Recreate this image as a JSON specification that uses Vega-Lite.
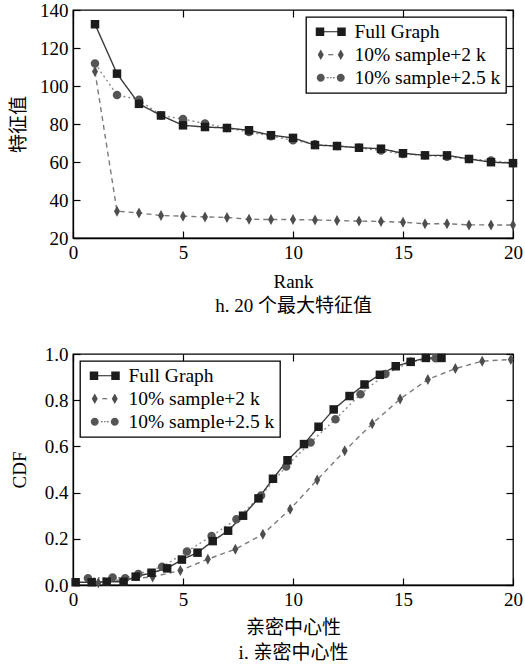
{
  "$schema": "https://vega.github.io/schema/vega-lite/v6.json",
  "padding": {"left": 8, "top": 0, "right": 0, "bottom": 2},
  "spacing": 28,
  "datasets": {
    "top": [
      {"series": "10% sample+2 k", "x": 1, "y": 107.6},
      {"series": "10% sample+2 k", "x": 2, "y": 34.1},
      {"series": "10% sample+2 k", "x": 3, "y": 33.2},
      {"series": "10% sample+2 k", "x": 4, "y": 31.8},
      {"series": "10% sample+2 k", "x": 5, "y": 31.5},
      {"series": "10% sample+2 k", "x": 6, "y": 31.1},
      {"series": "10% sample+2 k", "x": 7, "y": 30.8},
      {"series": "10% sample+2 k", "x": 8, "y": 29.9},
      {"series": "10% sample+2 k", "x": 9, "y": 29.7},
      {"series": "10% sample+2 k", "x": 10, "y": 29.7},
      {"series": "10% sample+2 k", "x": 11, "y": 29.5},
      {"series": "10% sample+2 k", "x": 12, "y": 29.2},
      {"series": "10% sample+2 k", "x": 13, "y": 28.9},
      {"series": "10% sample+2 k", "x": 14, "y": 28.7},
      {"series": "10% sample+2 k", "x": 15, "y": 28.3},
      {"series": "10% sample+2 k", "x": 16, "y": 27.5},
      {"series": "10% sample+2 k", "x": 17, "y": 27.5},
      {"series": "10% sample+2 k", "x": 18, "y": 26.9},
      {"series": "10% sample+2 k", "x": 19, "y": 26.9},
      {"series": "10% sample+2 k", "x": 20, "y": 26.8},
      {"series": "10% sample+2.5 k", "x": 1, "y": 111.9},
      {"series": "10% sample+2.5 k", "x": 2, "y": 95.3},
      {"series": "10% sample+2.5 k", "x": 3, "y": 92.8},
      {"series": "10% sample+2.5 k", "x": 4, "y": 84.5},
      {"series": "10% sample+2.5 k", "x": 5, "y": 82.6},
      {"series": "10% sample+2.5 k", "x": 6, "y": 80.2},
      {"series": "10% sample+2.5 k", "x": 7, "y": 77.9},
      {"series": "10% sample+2.5 k", "x": 8, "y": 75.8},
      {"series": "10% sample+2.5 k", "x": 9, "y": 73.6},
      {"series": "10% sample+2.5 k", "x": 10, "y": 71.5},
      {"series": "10% sample+2.5 k", "x": 11, "y": 69.3},
      {"series": "10% sample+2.5 k", "x": 12, "y": 68.4},
      {"series": "10% sample+2.5 k", "x": 13, "y": 67.5},
      {"series": "10% sample+2.5 k", "x": 14, "y": 66.0},
      {"series": "10% sample+2.5 k", "x": 15, "y": 64.2},
      {"series": "10% sample+2.5 k", "x": 16, "y": 63.5},
      {"series": "10% sample+2.5 k", "x": 17, "y": 62.8},
      {"series": "10% sample+2.5 k", "x": 18, "y": 61.6},
      {"series": "10% sample+2.5 k", "x": 19, "y": 60.8},
      {"series": "10% sample+2.5 k", "x": 20, "y": 59.4},
      {"series": "Full Graph", "x": 1, "y": 132.5},
      {"series": "Full Graph", "x": 2, "y": 106.5},
      {"series": "Full Graph", "x": 3, "y": 90.6},
      {"series": "Full Graph", "x": 4, "y": 84.5},
      {"series": "Full Graph", "x": 5, "y": 79.3},
      {"series": "Full Graph", "x": 6, "y": 78.4},
      {"series": "Full Graph", "x": 7, "y": 77.9},
      {"series": "Full Graph", "x": 8, "y": 76.7},
      {"series": "Full Graph", "x": 9, "y": 74.1},
      {"series": "Full Graph", "x": 10, "y": 72.7},
      {"series": "Full Graph", "x": 11, "y": 68.9},
      {"series": "Full Graph", "x": 12, "y": 68.4},
      {"series": "Full Graph", "x": 13, "y": 67.5},
      {"series": "Full Graph", "x": 14, "y": 67.0},
      {"series": "Full Graph", "x": 15, "y": 64.6},
      {"series": "Full Graph", "x": 16, "y": 63.5},
      {"series": "Full Graph", "x": 17, "y": 63.5},
      {"series": "Full Graph", "x": 18, "y": 61.6},
      {"series": "Full Graph", "x": 19, "y": 59.9},
      {"series": "Full Graph", "x": 20, "y": 59.4}
    ],
    "bottom": [
      {"series": "10% sample+2 k", "x": 1.15, "y": 0.01},
      {"series": "10% sample+2 k", "x": 2.4, "y": 0.025},
      {"series": "10% sample+2 k", "x": 3.62, "y": 0.035},
      {"series": "10% sample+2 k", "x": 4.88, "y": 0.063},
      {"series": "10% sample+2 k", "x": 6.13, "y": 0.112},
      {"series": "10% sample+2 k", "x": 7.38, "y": 0.155},
      {"series": "10% sample+2 k", "x": 8.63, "y": 0.22},
      {"series": "10% sample+2 k", "x": 9.87, "y": 0.328},
      {"series": "10% sample+2 k", "x": 11.1, "y": 0.455},
      {"series": "10% sample+2 k", "x": 12.35, "y": 0.581},
      {"series": "10% sample+2 k", "x": 13.6, "y": 0.698},
      {"series": "10% sample+2 k", "x": 14.87, "y": 0.805},
      {"series": "10% sample+2 k", "x": 16.13, "y": 0.89},
      {"series": "10% sample+2 k", "x": 17.38, "y": 0.937},
      {"series": "10% sample+2 k", "x": 18.6, "y": 0.969},
      {"series": "10% sample+2 k", "x": 19.9, "y": 0.976},
      {"series": "10% sample+2.5 k", "x": 0.68, "y": 0.029},
      {"series": "10% sample+2.5 k", "x": 1.8, "y": 0.033},
      {"series": "10% sample+2.5 k", "x": 2.37, "y": 0.029},
      {"series": "10% sample+2.5 k", "x": 2.97, "y": 0.048},
      {"series": "10% sample+2.5 k", "x": 4.05, "y": 0.079},
      {"series": "10% sample+2.5 k", "x": 5.18, "y": 0.145},
      {"series": "10% sample+2.5 k", "x": 6.3, "y": 0.212},
      {"series": "10% sample+2.5 k", "x": 7.43, "y": 0.285},
      {"series": "10% sample+2.5 k", "x": 8.55, "y": 0.387},
      {"series": "10% sample+2.5 k", "x": 9.69, "y": 0.513},
      {"series": "10% sample+2.5 k", "x": 10.8, "y": 0.617},
      {"series": "10% sample+2.5 k", "x": 11.93, "y": 0.718},
      {"series": "10% sample+2.5 k", "x": 13.07, "y": 0.826},
      {"series": "10% sample+2.5 k", "x": 14.2, "y": 0.913},
      {"series": "10% sample+2.5 k", "x": 15.35, "y": 0.966},
      {"series": "10% sample+2.5 k", "x": 16.48, "y": 0.982},
      {"series": "Full Graph", "x": 0.12, "y": 0.012},
      {"series": "Full Graph", "x": 0.85, "y": 0.012},
      {"series": "Full Graph", "x": 1.53, "y": 0.014},
      {"series": "Full Graph", "x": 2.3, "y": 0.014},
      {"series": "Full Graph", "x": 2.85, "y": 0.036},
      {"series": "Full Graph", "x": 3.57, "y": 0.053},
      {"series": "Full Graph", "x": 4.28, "y": 0.072},
      {"series": "Full Graph", "x": 4.95, "y": 0.11},
      {"series": "Full Graph", "x": 5.66, "y": 0.14},
      {"series": "Full Graph", "x": 6.35, "y": 0.19},
      {"series": "Full Graph", "x": 7.05, "y": 0.235},
      {"series": "Full Graph", "x": 7.73, "y": 0.3},
      {"series": "Full Graph", "x": 8.43, "y": 0.375},
      {"series": "Full Graph", "x": 9.09, "y": 0.46},
      {"series": "Full Graph", "x": 9.75, "y": 0.54},
      {"series": "Full Graph", "x": 10.5, "y": 0.61},
      {"series": "Full Graph", "x": 11.16, "y": 0.685},
      {"series": "Full Graph", "x": 11.85, "y": 0.76},
      {"series": "Full Graph", "x": 12.57, "y": 0.818},
      {"series": "Full Graph", "x": 13.25, "y": 0.868},
      {"series": "Full Graph", "x": 13.95, "y": 0.91},
      {"series": "Full Graph", "x": 14.67, "y": 0.947},
      {"series": "Full Graph", "x": 15.35, "y": 0.966},
      {"series": "Full Graph", "x": 16.04, "y": 0.983},
      {"series": "Full Graph", "x": 16.75, "y": 0.983}
    ]
  },
  "vconcat": [
    {
      "width": 440,
      "height": 228,
      "data": {"name": "top"},
      "layer": [
        {
          "mark": {"type": "line", "strokeWidth": 1.4},
          "encoding": {
            "x": {"field": "x", "type": "quantitative", "scale": {"domain": [0, 20], "nice": false},
              "axis": {"values": [0, 5, 10, 15, 20], "title": ["Rank", "h. 20 个最大特征值"], "titleLineHeight": 24, "titlePadding": 10}},
            "y": {"field": "y", "type": "quantitative", "scale": {"domain": [20, 140], "nice": false, "zero": false},
              "axis": {"values": [20, 40, 60, 80, 100, 120, 140], "title": "特征值", "titlePadding": 11}},
            "stroke": {"field": "series", "type": "nominal", "legend": null,
              "scale": {"range": ["#7a7a7a", "#8c8c8c", "#3a3a3a"]}},
            "strokeDash": {"field": "series", "type": "nominal", "legend": null,
              "scale": {"range": [[5, 4], [2, 3], [1, 0]]}}
          }
        },
        {
          "mark": {"type": "point", "filled": true, "opacity": 1, "size": 100, "strokeWidth": 0},
          "encoding": {
            "x": {"field": "x", "type": "quantitative", "axis": null},
            "y": {"field": "y", "type": "quantitative", "axis": null},
            "shape": {"field": "series", "type": "nominal", "legend": null,
              "scale": {"range": ["M0,-1.1L0.6,0L0,1.1L-0.6,0Z", "M-0.85,0A0.85,0.85 0 1,0 0.85,0A0.85,0.85 0 1,0 -0.85,0Z", "M-0.85,-0.85H0.85V0.85H-0.85Z"]}},
            "color": {"field": "series", "type": "nominal",
              "scale": {"domain": ["Full Graph", "10% sample+2 k", "10% sample+2.5 k"], "range": ["#1c1c1c", "#4e4e4e", "#555555"]},
              "legend": {"orient": "top-right", "offset": 7,
                "encode": {"symbols": {"update": {"shape": {"signal": "datum.value === 'Full Graph' ? 'M-1,-0.85H0.7V-0.12H3.3V-0.85H5V0.85H3.3V0.12H0.7V0.85H-1Z' : datum.value === '10% sample+2 k' ? 'M0,-1.05L0.6,0L0,1.05L-0.6,0Z M4,-1.05L4.6,0L4,1.05L3.4,0Z M1.5,-0.12H2.5V0.12H1.5Z' : 'M-0.8,0A0.8,0.8 0 1,0 0.8,0A0.8,0.8 0 1,0 -0.8,0Z M3.2,0A0.8,0.8 0 1,0 4.8,0A0.8,0.8 0 1,0 3.2,0Z M1.2,-0.12H1.6V0.12H1.2Z M1.85,-0.12H2.15V0.12H1.85Z M2.4,-0.12H2.8V0.12H2.4Z'"}}}}}}
          }
        },
        {
          "mark": {"type": "point", "opacity": 0},
          "encoding": {
            "x": {"field": "x", "type": "quantitative", "axis": {"orient": "top", "values": [0, 5, 10, 15, 20], "labels": false, "title": null, "domain": false}},
            "y": {"field": "y", "type": "quantitative", "axis": {"orient": "right", "values": [20, 40, 60, 80, 100, 120, 140], "labels": false, "title": null, "domain": false}}
          }
        }
      ],
      "resolve": {"axis": {"x": "independent", "y": "independent"}}
    },
    {
      "width": 440,
      "height": 231,
      "data": {"name": "bottom"},
      "layer": [
        {
          "mark": {"type": "line", "strokeWidth": 1.4},
          "encoding": {
            "x": {"field": "x", "type": "quantitative", "scale": {"domain": [0, 20], "nice": false},
              "axis": {"values": [0, 5, 10, 15, 20], "title": ["亲密中心性", "i. 亲密中心性"], "titleLineHeight": 25, "titlePadding": 9}},
            "y": {"field": "y", "type": "quantitative", "scale": {"domain": [0, 1], "nice": false},
              "axis": {"values": [0, 0.2, 0.4, 0.6, 0.8, 1.0], "format": ".1f", "title": "CDF", "titlePadding": 15}},
            "stroke": {"field": "series", "type": "nominal", "legend": null,
              "scale": {"range": ["#7a7a7a", "#8c8c8c", "#3a3a3a"]}},
            "strokeDash": {"field": "series", "type": "nominal", "legend": null,
              "scale": {"range": [[5, 4], [2, 3], [1, 0]]}}
          }
        },
        {
          "mark": {"type": "point", "filled": true, "opacity": 1, "size": 100, "strokeWidth": 0},
          "encoding": {
            "x": {"field": "x", "type": "quantitative", "axis": null},
            "y": {"field": "y", "type": "quantitative", "axis": null},
            "shape": {"field": "series", "type": "nominal", "legend": null,
              "scale": {"range": ["M0,-1.1L0.6,0L0,1.1L-0.6,0Z", "M-0.85,0A0.85,0.85 0 1,0 0.85,0A0.85,0.85 0 1,0 -0.85,0Z", "M-0.85,-0.85H0.85V0.85H-0.85Z"]}},
            "color": {"field": "series", "type": "nominal",
              "scale": {"domain": ["Full Graph", "10% sample+2 k", "10% sample+2.5 k"], "range": ["#1c1c1c", "#4e4e4e", "#555555"]},
              "legend": {"orient": "top-left", "offset": 7,
                "encode": {"symbols": {"update": {"shape": {"signal": "datum.value === 'Full Graph' ? 'M-1,-0.85H0.7V-0.12H3.3V-0.85H5V0.85H3.3V0.12H0.7V0.85H-1Z' : datum.value === '10% sample+2 k' ? 'M0,-1.05L0.6,0L0,1.05L-0.6,0Z M4,-1.05L4.6,0L4,1.05L3.4,0Z M1.5,-0.12H2.5V0.12H1.5Z' : 'M-0.8,0A0.8,0.8 0 1,0 0.8,0A0.8,0.8 0 1,0 -0.8,0Z M3.2,0A0.8,0.8 0 1,0 4.8,0A0.8,0.8 0 1,0 3.2,0Z M1.2,-0.12H1.6V0.12H1.2Z M1.85,-0.12H2.15V0.12H1.85Z M2.4,-0.12H2.8V0.12H2.4Z'"}}}}}}
          }
        },
        {
          "mark": {"type": "point", "opacity": 0},
          "encoding": {
            "x": {"field": "x", "type": "quantitative", "axis": {"orient": "top", "values": [0, 5, 10, 15, 20], "labels": false, "title": null, "domain": false}},
            "y": {"field": "y", "type": "quantitative", "axis": {"orient": "right", "values": [0, 0.2, 0.4, 0.6, 0.8, 1.0], "labels": false, "title": null, "domain": false}}
          }
        }
      ],
      "resolve": {"axis": {"x": "independent", "y": "independent"}}
    }
  ],
  "resolve": {
    "scale": {"color": "independent", "shape": "independent", "stroke": "independent", "strokeDash": "independent"},
    "legend": {"color": "independent"}
  },
  "config": {
    "font": "Liberation Serif, Noto Sans CJK SC",
    "view": {"stroke": "black", "strokeWidth": 1.3},
    "axis": {
      "grid": false,
      "labelFont": "Liberation Serif",
      "labelFontSize": 19,
      "labelColor": "black",
      "labelFlush": false,
      "labelPadding": 12,
      "titleFont": "Liberation Serif, Noto Sans CJK SC",
      "titleFontSize": 19,
      "titleFontWeight": "normal",
      "titleColor": "black",
      "domainColor": "black",
      "domainWidth": 1.3,
      "tickColor": "black",
      "tickSize": -7,
      "tickWidth": 1.2
    },
    "legend": {
      "title": null,
      "strokeColor": "black",
      "strokeWidth": 1.3,
      "fillColor": "white",
      "padding": 5,
      "labelFont": "Liberation Serif",
      "labelFontSize": 19.5,
      "labelColor": "black",
      "labelLimit": 300,
      "labelOffset": 24,
      "symbolSize": 100,
      "symbolStrokeWidth": 0,
      "symbolOpacity": 1,
      "rowPadding": 2
    }
  }
}
